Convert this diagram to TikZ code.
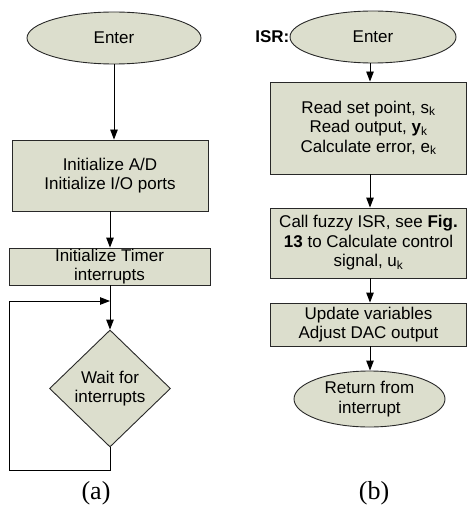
\documentclass[tikz,border=0pt]{standalone}
\usepackage{fontspec}
\setmainfont{Liberation Serif}
\setsansfont{Liberation Sans}
\usetikzlibrary{shapes.geometric,arrows.meta}
\definecolor{boxfill}{RGB}{220,222,205}
\definecolor{edge}{RGB}{40,40,40}
\tikzset{
  txt/.style={font=\sffamily\fontsize{17}{19.5}\selectfont, align=center, inner sep=0pt},
  procbox/.style={txt, draw=edge, fill=boxfill, line width=0.9pt, rectangle},
  terminal/.style={txt, draw=edge, fill=boxfill, line width=0.9pt, ellipse},
  decision/.style={txt, draw=edge, fill=boxfill, line width=0.9pt, diamond},
  flow/.style={draw=black, line width=0.9pt, -{Triangle[length=10pt,width=7.5pt]}},
  plain/.style={draw=black, line width=0.9pt},
  caption/.style={font=\fontsize{26}{30}\selectfont, inner sep=0pt}
}
\begin{document}
\begin{tikzpicture}[x=1pt,y=-1pt]
\useasboundingbox (0,0) rectangle (468,513);

% ---- (a) main program ----
\node[terminal, minimum width=174pt, minimum height=52pt] (enterA) at (114,38) {Enter};
\node[procbox, minimum width=196pt, minimum height=71pt] (initAD) at (110,175.5)
  {Initialize A/D\\Initialize I/O ports};
\node[procbox, minimum width=201pt, minimum height=37pt] (initT) at (109.5,266.5)
  {Initialize Timer\\interrupts};
\node[decision, minimum width=121pt, minimum height=117pt] (wait) at (110,388.5)
  {Wait for\\interrupts};
\coordinate (loopBR) at (110,470);
\coordinate (loopBL) at (9,470);
\coordinate (loopTL) at (9,301);
\coordinate (loopJoin) at (110,301);

\draw[flow] (enterA.south) -- (enterA.south |- initAD.north);
\draw[flow] (initAD.south -| wait.north) -- (initT.north -| wait.north);
\draw[flow] (initT.south -| wait.north) -- (wait.north);
\draw[plain] (wait.south) -- (loopBR) -- (loopBL) -- (loopTL);
\draw[flow] (loopTL) -- (loopJoin);

\node[caption] (capA) at (96,493) {(a)};

% ---- (b) interrupt service routine ----
\node[terminal, minimum width=166pt, minimum height=52pt] (enterB) at (373,37) {Enter};
\node[txt, font=\sffamily\bfseries\fontsize{17}{19.5}\selectfont, anchor=east]
  (isr) at (enterB.west) {ISR:};
\node[procbox, minimum width=196pt, minimum height=92pt] (readS) at (368.5,128)
  {Read set point, s\textsubscript{k}\\Read output, \textbf{y}\textsubscript{k}\\Calculate error, e\textsubscript{k}};
\node[procbox, minimum width=196pt, minimum height=70pt] (fuzzy) at (368.5,243)
  {Call fuzzy ISR, see \textbf{Fig.}\\\textbf{13} to Calculate control\\signal, u\textsubscript{k}};
\node[procbox, minimum width=196pt, minimum height=43pt] (update) at (368.5,324.5)
  {Update variables\\Adjust DAC output};
\node[terminal, minimum width=151pt, minimum height=56pt] (ret) at (369.5,399)
  {Return from\\interrupt};

\draw[flow] (enterB.south -| 370,0) -- (readS.north -| 370,0);
\draw[flow] (readS.south -| 370,0) -- (fuzzy.north -| 370,0);
\draw[flow] (fuzzy.south -| 370,0) -- (update.north -| 370,0);
\draw[flow] (update.south -| 370,0) -- (ret.north -| 370,0);

\node[caption] (capB) at (374,493) {(b)};
\end{tikzpicture}
\end{document}
